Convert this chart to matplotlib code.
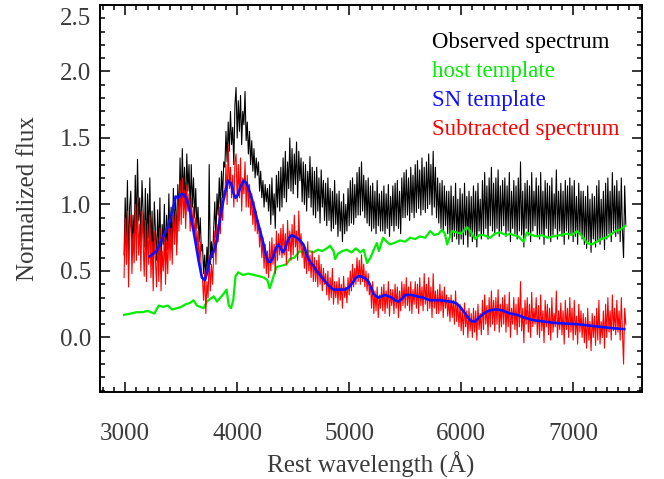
import numpy as np
import matplotlib
matplotlib.use("Agg")
import matplotlib.pyplot as plt
from matplotlib.ticker import MultipleLocator, FixedFormatter, FixedLocator

plt.rcParams["font.family"] = ["Liberation Serif", "DejaVu Serif"]
GREY = "#3a3a3a"

# observed + subtracted spectra, sampled every 10 A from 2990 to 7470 (one row = 100 A)
wave = np.arange(2990, 7471, 10)
observed = [
    0.62, 1.05, 0.70, 1.18, 0.55, 0.98, 1.10, 0.64, 0.92, 0.72,
    1.22, 0.80, 1.34, 0.88, 1.05, 0.72, 1.18, 0.95, 0.68, 1.12,
    0.60, 1.08, 0.75, 1.20, 0.66, 0.95, 0.52, 1.02, 0.80, 0.58,
    0.96, 0.62, 1.05, 0.48, 0.85, 0.70, 1.00, 0.55, 0.92, 0.66,
    1.08, 0.72, 0.98, 0.65, 1.12, 0.80, 1.05, 0.70, 1.15, 0.88,
    1.35, 0.98, 1.42, 1.05, 1.28, 0.92, 1.38, 1.10, 1.30, 0.95,
    1.30, 0.98, 1.20, 0.90, 1.12, 0.82, 0.98, 0.72, 0.90, 0.65,
    0.70, 0.48, 0.62, 0.44, 0.68, 0.50, 1.30, 0.55, 0.72, 0.60,
    0.82, 1.02, 0.75, 1.08, 0.92, 1.20, 0.95, 1.25, 1.05, 1.32,
    1.28, 1.55, 1.32, 1.62, 1.40, 1.70, 1.45, 1.58, 1.30, 1.75,
    1.88, 1.50, 1.78, 1.55, 1.82, 1.45, 1.70, 1.60, 1.85, 1.48,
    1.62, 1.38, 1.55, 1.30, 1.48, 1.25, 1.42, 1.20, 1.35, 1.22,
    1.32, 1.10, 1.25, 1.05, 1.18, 0.98, 1.15, 1.02, 1.12, 0.95,
    1.15, 0.85, 1.20, 0.92, 1.08, 0.82, 1.22, 0.98, 1.25, 0.95,
    1.28, 0.98, 1.35, 1.05, 1.40, 1.02, 1.32, 1.12, 1.50, 1.10,
    1.42, 1.08, 1.38, 1.15, 1.47, 1.05, 1.40, 1.18, 1.35, 1.02,
    1.32, 1.00, 1.30, 0.95, 1.25, 1.05, 1.36, 0.98, 1.28, 0.92,
    1.25, 0.90, 1.28, 0.95, 1.20, 0.86, 1.26, 0.98, 1.18, 0.88,
    1.16, 0.84, 1.20, 0.88, 1.12, 0.80, 1.10, 0.82, 1.18, 0.85,
    1.08, 0.76, 1.10, 0.80, 1.02, 0.72, 1.08, 0.78, 1.00, 0.80,
    1.12, 0.84, 1.18, 0.86, 1.20, 0.85, 1.15, 0.90, 1.24, 0.92,
    1.28, 0.92, 1.32, 0.95, 1.22, 0.90, 1.18, 0.86, 1.20, 0.84,
    1.14, 0.80, 1.16, 0.82, 1.10, 0.78, 1.18, 0.84, 1.08, 0.80,
    1.10, 0.80, 1.14, 0.78, 1.08, 0.82, 1.15, 0.76, 1.06, 0.84,
    1.14, 0.80, 1.16, 0.84, 1.18, 0.82, 1.10, 0.78, 1.20, 0.90,
    1.24, 0.90, 1.26, 0.92, 1.20, 0.88, 1.28, 0.94, 1.22, 0.90,
    1.30, 0.94, 1.33, 0.97, 1.26, 0.92, 1.35, 0.96, 1.28, 0.94,
    1.32, 0.97, 1.38, 1.00, 1.30, 0.92, 1.40, 0.98, 1.28, 0.90,
    1.20, 0.86, 1.16, 0.82, 1.18, 0.80, 1.14, 0.84, 1.10, 0.78,
    1.10, 0.76, 1.14, 0.72, 1.06, 0.76, 1.16, 0.74, 1.04, 0.70,
    1.12, 0.74, 1.08, 0.70, 1.16, 0.77, 1.06, 0.68, 1.10, 0.76,
    1.06, 0.72, 1.14, 0.76, 1.10, 0.68, 1.16, 0.80, 1.04, 0.74,
    1.18, 0.78, 1.24, 0.82, 1.14, 0.74, 1.20, 0.84, 1.28, 0.80,
    1.16, 0.77, 1.20, 0.82, 1.26, 0.76, 1.14, 0.80, 1.18, 0.84,
    1.20, 0.76, 1.14, 0.80, 1.24, 0.72, 1.10, 0.82, 1.18, 0.78,
    1.14, 0.74, 1.20, 0.80, 1.32, 0.77, 1.10, 0.68, 1.16, 0.82,
    1.18, 0.77, 1.14, 0.72, 1.24, 0.80, 1.10, 0.84, 1.20, 0.76,
    1.14, 0.74, 1.24, 0.78, 1.10, 0.70, 1.18, 0.82, 1.16, 0.76,
    1.14, 0.72, 1.20, 0.77, 1.08, 0.82, 1.26, 0.74, 1.10, 0.80,
    1.16, 0.76, 1.10, 0.70, 1.18, 0.80, 1.14, 0.74, 1.20, 0.78,
    1.14, 0.72, 1.18, 0.76, 1.06, 0.70, 1.16, 0.78, 1.10, 0.74,
    1.10, 0.70, 1.06, 0.67, 1.14, 0.72, 1.04, 0.64, 1.08, 0.74,
    1.06, 0.68, 1.14, 0.72, 1.18, 0.70, 1.04, 0.74, 1.10, 0.66,
    1.16, 0.74, 1.20, 0.78, 1.10, 0.72, 1.24, 0.80, 1.14, 0.76,
    1.18, 0.78, 1.10, 0.72, 1.20, 0.80, 0.60, 1.14, 0.85,
]
subtracted = [
    0.45, 0.90, 0.55, 0.95, 0.38, 0.82, 0.92, 0.48, 0.78, 0.56,
    1.00, 0.58, 1.05, 0.62, 0.85, 0.50, 0.95, 0.72, 0.46, 0.88,
    0.42, 0.85, 0.55, 0.92, 0.45, 0.72, 0.35, 0.80, 0.58, 0.38,
    0.75, 0.42, 0.82, 0.35, 0.65, 0.50, 0.80, 0.40, 0.72, 0.48,
    0.85, 0.58, 0.82, 0.55, 0.98, 0.70, 0.95, 0.62, 1.05, 0.80,
    1.18, 0.85, 1.20, 0.90, 1.10, 0.82, 1.15, 0.95, 1.08, 0.80,
    1.05, 0.82, 0.98, 0.75, 0.90, 0.65, 0.80, 0.55, 0.72, 0.48,
    0.45, 0.28, 0.50, 0.18, 0.42, 0.30, 0.62, 0.35, 0.55, 0.40,
    0.62, 0.80, 0.55, 0.85, 0.72, 0.98, 0.78, 1.05, 0.88, 1.10,
    1.05, 1.30, 1.00, 1.45, 1.12, 1.28, 1.05, 1.22, 0.98, 1.32,
    1.38, 1.02, 1.30, 1.05, 1.35, 0.95, 1.20, 1.08, 1.32, 0.98,
    1.22, 0.98, 1.15, 0.92, 1.08, 0.85, 1.02, 0.80, 0.95, 0.78,
    0.88, 0.68, 0.82, 0.60, 0.75, 0.52, 0.70, 0.48, 0.65, 0.45,
    0.72, 0.50, 0.75, 0.55, 0.70, 0.48, 0.80, 0.58, 0.78, 0.62,
    0.82, 0.60, 0.85, 0.62, 0.78, 0.55, 0.88, 0.65, 0.80, 0.58,
    0.85, 0.62, 0.92, 0.68, 0.80, 0.58, 0.95, 0.66, 0.78, 0.60,
    0.70, 0.52, 0.68, 0.48, 0.72, 0.50, 0.62, 0.45, 0.65, 0.42,
    0.60, 0.42, 0.58, 0.38, 0.62, 0.40, 0.55, 0.35, 0.52, 0.40,
    0.48, 0.32, 0.50, 0.28, 0.45, 0.30, 0.52, 0.25, 0.42, 0.30,
    0.42, 0.25, 0.45, 0.28, 0.40, 0.22, 0.46, 0.30, 0.38, 0.26,
    0.45, 0.32, 0.50, 0.35, 0.55, 0.38, 0.52, 0.40, 0.60, 0.42,
    0.58, 0.40, 0.62, 0.42, 0.55, 0.38, 0.50, 0.35, 0.48, 0.32,
    0.40, 0.22, 0.42, 0.18, 0.35, 0.20, 0.38, 0.15, 0.32, 0.22,
    0.38, 0.20, 0.40, 0.18, 0.35, 0.22, 0.42, 0.16, 0.36, 0.24,
    0.36, 0.18, 0.40, 0.22, 0.38, 0.15, 0.35, 0.20, 0.42, 0.24,
    0.40, 0.22, 0.45, 0.24, 0.38, 0.20, 0.42, 0.18, 0.36, 0.25,
    0.42, 0.22, 0.40, 0.18, 0.45, 0.24, 0.38, 0.20, 0.48, 0.25,
    0.40, 0.20, 0.45, 0.22, 0.38, 0.15, 0.48, 0.22, 0.35, 0.18,
    0.36, 0.18, 0.40, 0.20, 0.35, 0.15, 0.38, 0.22, 0.32, 0.16,
    0.30, 0.12, 0.32, 0.15, 0.28, 0.10, 0.35, 0.12, 0.26, 0.08,
    0.25, 0.05, 0.22, 0.02, 0.26, 0.08, 0.20, 0.00, 0.22, 0.05,
    0.18, 0.00, 0.22, 0.04, 0.20, -0.02, 0.25, 0.06, 0.18, 0.02,
    0.28, 0.06, 0.32, 0.10, 0.24, 0.02, 0.30, 0.08, 0.35, 0.10,
    0.28, 0.05, 0.30, 0.10, 0.36, 0.04, 0.25, 0.08, 0.30, 0.10,
    0.32, 0.04, 0.25, 0.08, 0.34, 0.00, 0.22, 0.10, 0.30, 0.06,
    0.25, 0.02, 0.30, 0.08, 0.42, 0.05, 0.22, -0.04, 0.28, 0.10,
    0.30, 0.04, 0.25, 0.00, 0.34, 0.08, 0.22, 0.10, 0.30, 0.02,
    0.24, 0.00, 0.32, 0.05, 0.20, -0.04, 0.28, 0.08, 0.25, 0.02,
    0.22, -0.02, 0.30, 0.04, 0.18, 0.08, 0.35, 0.00, 0.20, 0.06,
    0.26, 0.02, 0.20, -0.05, 0.28, 0.06, 0.22, 0.00, 0.30, 0.04,
    0.22, -0.02, 0.28, 0.02, 0.16, -0.05, 0.25, 0.04, 0.20, 0.00,
    0.18, -0.04, 0.15, -0.08, 0.22, -0.02, 0.12, -0.10, 0.18, 0.00,
    0.16, -0.06, 0.22, -0.02, 0.28, -0.05, 0.12, 0.00, 0.20, -0.08,
    0.25, 0.00, 0.30, 0.04, 0.20, -0.02, 0.32, 0.05, 0.22, 0.02,
    0.28, 0.04, 0.20, -0.02, 0.30, 0.06, -0.20, 0.22, 0.10,
]

host_wave = [
    2990, 3050, 3100, 3150, 3200, 3230, 3260, 3300, 3340, 3380,
    3420, 3460, 3500, 3540, 3580, 3610, 3640, 3670, 3700, 3730,
    3760, 3790, 3820, 3850, 3880, 3905, 3925, 3945, 3965, 3985,
    4010, 4050, 4100, 4150, 4200, 4240, 4270, 4290, 4310, 4350,
    4400, 4440, 4470, 4510, 4560, 4600, 4640, 4680, 4720, 4760,
    4800, 4830, 4860, 4875, 4900, 4940, 4980, 5020, 5060, 5100,
    5130, 5160, 5190, 5220, 5247, 5265, 5303, 5335, 5365, 5400,
    5455, 5500, 5545, 5590, 5630, 5680, 5723, 5760, 5800, 5828,
    5855, 5875, 5900, 5917, 5960, 6000, 6051, 6090, 6125, 6160,
    6200, 6260, 6300, 6349, 6400, 6438, 6467, 6510, 6557, 6587,
    6630, 6680, 6720, 6770, 6825, 6880, 6945, 6990, 7034, 7070,
    7100, 7123, 7168, 7210, 7250, 7290, 7330, 7376, 7420, 7466,
]
host_flux = [
    0.17, 0.18, 0.19, 0.19, 0.20, 0.19, 0.18, 0.24, 0.23, 0.24,
    0.21, 0.22, 0.23, 0.25, 0.26, 0.28, 0.24, 0.23, 0.22, 0.27,
    0.29, 0.31, 0.27, 0.30, 0.33, 0.36, 0.24, 0.22, 0.28, 0.46,
    0.49, 0.47, 0.48, 0.47, 0.46, 0.45, 0.43, 0.37, 0.42, 0.53,
    0.54, 0.55, 0.59, 0.60, 0.65, 0.63, 0.65, 0.64, 0.66, 0.65,
    0.67, 0.69, 0.65, 0.59, 0.63, 0.65, 0.66, 0.64, 0.67, 0.64,
    0.66, 0.56, 0.60, 0.66, 0.71, 0.65, 0.75, 0.72, 0.70, 0.71,
    0.73, 0.72, 0.75, 0.74, 0.76, 0.75, 0.80, 0.77, 0.78, 0.81,
    0.78, 0.70, 0.76, 0.80, 0.79, 0.78, 0.83, 0.79, 0.74, 0.77,
    0.77, 0.75, 0.78, 0.79, 0.77, 0.78, 0.77, 0.76, 0.72, 0.79,
    0.77, 0.76, 0.77, 0.75, 0.76, 0.77, 0.78, 0.77, 0.80, 0.77,
    0.74, 0.71, 0.70, 0.72, 0.74, 0.75, 0.77, 0.80, 0.81, 0.84,
]

sn_wave = [
    3220, 3250, 3280, 3310, 3340, 3385, 3430, 3450, 3475, 3505,
    3530, 3550, 3580, 3600, 3625, 3655, 3685, 3712, 3735, 3757,
    3780, 3802, 3825, 3846, 3870, 3891, 3920, 3945, 3965, 3985,
    4005, 4025, 4055, 4085, 4114, 4145, 4174, 4205, 4233, 4260,
    4278, 4300, 4323, 4345, 4368, 4390, 4407, 4425, 4443, 4465,
    4487, 4510, 4532, 4560, 4591, 4615, 4636, 4660, 4681, 4710,
    4740, 4785, 4830, 4860, 4889, 4925, 4963, 5000, 5038, 5060,
    5082, 5105, 5127, 5150, 5172, 5195, 5216, 5240, 5261, 5290,
    5321, 5350, 5381, 5410, 5440, 5470, 5500, 5550, 5604, 5660,
    5723, 5810, 5902, 5950, 5991, 6035, 6080, 6105, 6125, 6160,
    6200, 6245, 6289, 6330, 6378, 6438, 6500, 6560, 6646, 6740,
    6825, 6930, 7034, 7140, 7242, 7350, 7457,
]
sn_flux = [
    0.61, 0.63, 0.65, 0.70, 0.76, 0.84, 0.98, 1.06, 1.05, 1.08,
    1.07, 1.04, 0.94, 0.85, 0.73, 0.58, 0.45, 0.43, 0.50, 0.59,
    0.63, 0.67, 0.76, 0.89, 1.00, 1.09, 1.18, 1.16, 1.09, 1.05,
    1.07, 1.12, 1.18, 1.16, 1.09, 1.00, 0.90, 0.80, 0.71, 0.61,
    0.57, 0.57, 0.61, 0.67, 0.70, 0.67, 0.64, 0.66, 0.71, 0.75,
    0.77, 0.76, 0.75, 0.73, 0.70, 0.64, 0.59, 0.56, 0.54, 0.50,
    0.47, 0.42, 0.38, 0.36, 0.36, 0.36, 0.36, 0.38, 0.42, 0.45,
    0.46, 0.46, 0.45, 0.44, 0.42, 0.38, 0.33, 0.31, 0.30, 0.31,
    0.32, 0.31, 0.30, 0.28, 0.27, 0.29, 0.32, 0.32, 0.31, 0.30,
    0.28, 0.28, 0.27, 0.26, 0.23, 0.18, 0.13, 0.12, 0.12, 0.15,
    0.18, 0.20, 0.21, 0.21, 0.20, 0.18, 0.17, 0.15, 0.13, 0.12,
    0.11, 0.105, 0.10, 0.09, 0.08, 0.07, 0.063,
]

labels = ["Observed spectrum", "host template", "SN template", "Subtracted spectrum"]
colors = ["black", "#00ee00", "#1010ff", "#ff0000"]

fig = plt.figure(figsize=(6.64, 4.79), dpi=100)
ax = fig.add_axes((0.1506, 0.1816, 0.8163, 0.808))

ax.plot(wave, observed, color="black", lw=0.8, zorder=2)
ax.plot(host_wave, host_flux, color=colors[1], lw=1.6, zorder=3)
ax.plot(wave, subtracted, color=colors[3], lw=0.8, zorder=4)
ax.plot(sn_wave, sn_flux, color=colors[2], lw=1.9, zorder=5)

ax.set_xlim(2775, 7615)
ax.set_ylim(-0.41, 2.5)

ax.xaxis.set_major_locator(MultipleLocator(1000))
ax.xaxis.set_minor_locator(MultipleLocator(100))
yt = [0.0, 0.5, 1.0, 1.5, 2.0, 2.5]
ax.yaxis.set_major_locator(FixedLocator(yt))
ax.yaxis.set_major_formatter(FixedFormatter(["0.0", "0.5", "1.0", "1.5", "2.0", ""]))
ax.yaxis.set_minor_locator(MultipleLocator(0.1))
# top label sits below its tick, like the original
ax.annotate("2.5", xy=(0, 2.5), xycoords=("axes fraction", "data"),
            xytext=(-6.5, -10), textcoords="offset points",
            ha="right", va="center", fontsize=18, color=GREY)

ax.tick_params(which="both", direction="in", top=True, right=True, width=1.1, colors="black",
               labelcolor=GREY, labelsize=18)
ax.tick_params(which="major", length=7)
ax.tick_params(which="minor", length=3.5)
ax.tick_params(axis="x", pad=22)
ax.tick_params(axis="y", pad=6.5)
for sp in ax.spines.values():
    sp.set_linewidth(1.4)

ax.set_xlabel("Rest wavelength (Å)", fontsize=18, color=GREY, labelpad=5)
ax.set_ylabel("Normalized flux", fontsize=18, color=GREY, labelpad=15)

for i, (lab, c) in enumerate(zip(labels, colors)):
    ax.text(0.613, 0.904 - i * 0.075, lab, transform=ax.transAxes, color=c,
            fontsize=16.5, ha="left", va="center")

fig.savefig("out.png", dpi=100)
